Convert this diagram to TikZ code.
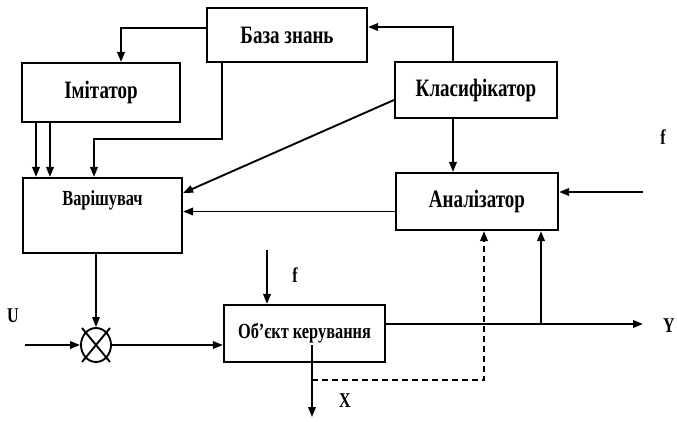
\documentclass[tikz,border=0pt]{standalone}
\usepackage{fontspec}
\setmainfont{Liberation Serif}[FakeStretch=0.76]
\usetikzlibrary{arrows.meta,shapes.geometric}
\begin{document}
\begin{tikzpicture}[x=1pt,y=-1pt,line width=1.9pt,
    block/.style={draw,rectangle,line width=2.1pt,font=\bfseries\fontsize{25}{27}\selectfont},
    smallblock/.style={block,font=\bfseries\fontsize{21.5}{23}\selectfont},
    arr/.style={-{Triangle[length=10pt,width=7.5pt]}},
    sig/.style={font=\bfseries\fontsize{21}{23}\selectfont}]
      \useasboundingbox (0,0) rectangle (677,421);

      \node[block, minimum width=160pt, minimum height=54pt] (kb) at (287, 35) {База знань};
      \node[block, minimum width=158pt, minimum height=59pt] (im) at (101, 92.5) {Імітатор};
      \node[smallblock, minimum width=159pt, minimum height=75pt, text height=15pt, text depth=36pt] (sv) at (102.5, 215.5) {Варішувач};
      \node[block, minimum width=162pt, minimum height=56pt] (cl) at (476, 90) {Класифікатор};
      \node[block, minimum width=162pt, minimum height=57pt] (an) at (477, 201.5) {Аналізатор};
      \node[smallblock, minimum width=161pt, minimum height=57pt] (ob) at (304.5, 333.5) {Об’єкт керування};
      \node[ellipse, draw, minimum width=30pt, minimum height=34pt, inner sep=0pt] (sum) at (96, 345) {};
      \draw ([shift={(-14pt,17pt)}]sum.center) -- ([shift={(14pt,-17pt)}]sum.center);
      \draw ([shift={(14pt,17pt)}]sum.center) -- ([shift={(-14pt,-17pt)}]sum.center);

      \coordinate (fa) at (643, 192);
      \coordinate (fo) at (267, 250);
      \coordinate (u) at (25, 345);
      \coordinate (y) at (643, 324);
      \coordinate (br) at (541, 324);
      \coordinate (xs) at (312, 345);
      \coordinate (xe) at (312, 417);
      \coordinate (xd) at (312, 380);

      \node[sig] (lf1) at (663, 137) {f};
      \node[sig] (lf2) at (295, 275) {f};
      \node[sig] (lu) at (13, 316) {U};
      \node[sig] (ly) at (669, 326) {Y};
      \node[sig] (lx) at (345, 401) {X};

      \draw[arr] ([yshift=7pt]kb.west) -| ([xshift=20pt]im.north);
      \draw[arr] ([xshift=-65pt]im.south) -- ([xshift=-65pt]im.south |- sv.north);
      \draw[arr] ([xshift=-51pt]im.south) -- ([xshift=-51pt]im.south |- sv.north);
      \draw[arr] ([xshift=-65pt]kb.south) -- ++(0,76) -| ([xshift=-8.5pt]sv.north);
      \draw[arr] ([yshift=-10pt]cl.west) -- ([yshift=22.5pt]sv.east);
      \draw[arr] ([yshift=-10pt]an.west) -- ([yshift=-10pt]an.west -| sv.east);
      \draw[arr] ([xshift=-23pt]cl.north) |- ([yshift=8pt]kb.east);
      \draw[arr] ([xshift=-23pt]cl.south) -- ([xshift=-23pt]cl.south |- an.north);
      \draw[arr] (fa) -- (fa -| an.east);
      \draw[arr] (sum.north |- sv.south) -- (sum.north);
      \draw[arr] (u) -- (sum.west);
      \draw[arr] (sum.east) -- (sum.east -| ob.west);
      \draw[arr] (fo) -- (fo |- ob.north);
      \draw[arr] ([yshift=9.5pt]ob.east) -- (y);
      \draw[arr] (br) -- (br |- an.south);
      \draw[arr] (xs) -- (xe);
      \draw[arr, dashed, dash pattern=on 6pt off 4pt] (xd) -| ([xshift=7pt]an.south);
    \end{tikzpicture}
\end{document}
